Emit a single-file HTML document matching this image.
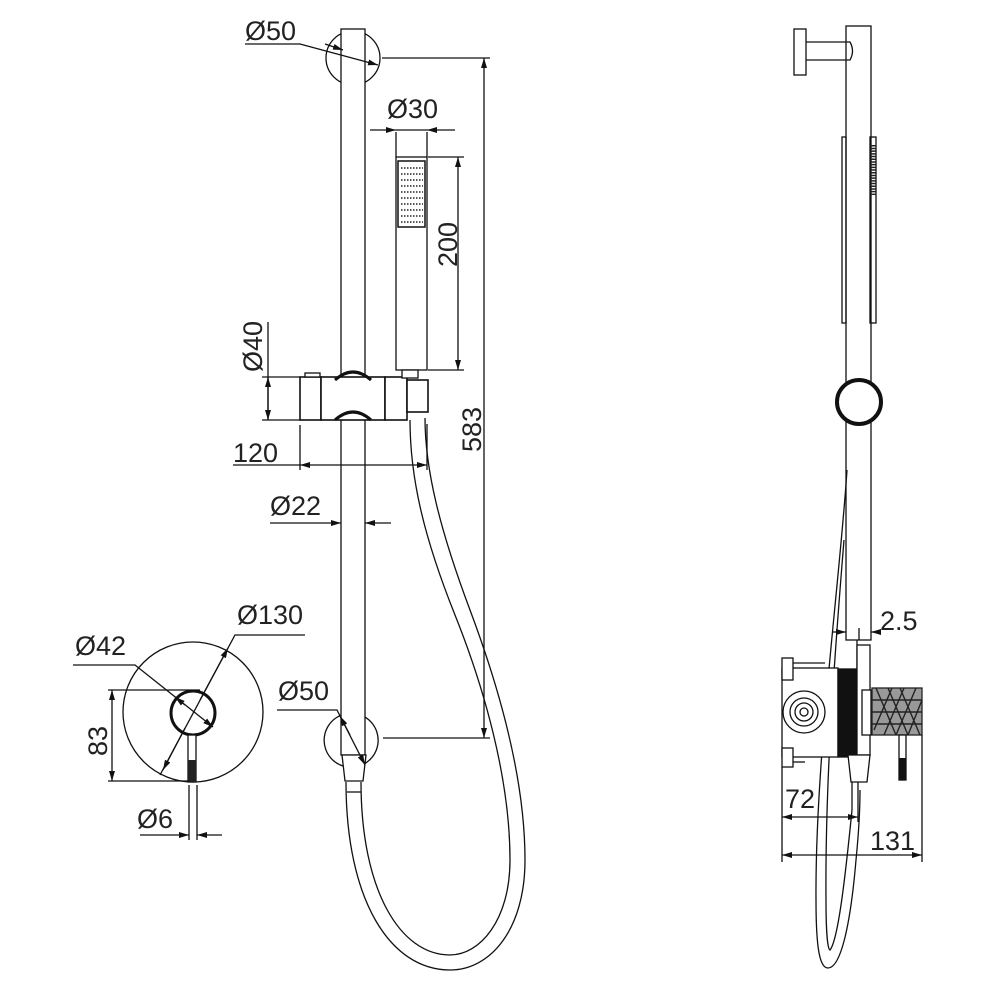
<!DOCTYPE html>
<html><head><style>html,body{margin:0;padding:0;background:#fff}svg{display:block}</style></head>
<body>
<svg width="1000" height="1000" viewBox="0 0 1000 1000" xmlns="http://www.w3.org/2000/svg" font-family="Liberation Sans, sans-serif" fill="none" stroke="#111" stroke-width="1.3">
<defs>
<marker id="a" viewBox="0 0 10 6" refX="10" refY="3" markerWidth="10" markerHeight="6" orient="auto-start-reverse" markerUnits="userSpaceOnUse"><path d="M0,0 L10,3 L0,6 z" fill="#111" stroke="none"/></marker>
</defs>
<!-- ===== main bar ===== -->
<circle cx="353" cy="58" r="27"/>
<path d="M343,766 A27,27 0 1 1 364,764"/>
<rect x="341" y="29" width="24" height="726" fill="#fff"/>
<!-- top Ø50 -->
<polyline points="245,44 300,44 378,65" marker-end="url(#a)"/>
<line x1="325" y1="44" x2="343" y2="50" marker-end="url(#a)"/>
<text x="245" y="40" font-size="27" fill="#222" stroke="none">Ø50</text>
<!-- 583 -->
<line x1="382" y1="58" x2="490" y2="58"/>
<line x1="383" y1="738" x2="490" y2="738"/>
<line x1="484" y1="58" x2="484" y2="738" marker-start="url(#a)" marker-end="url(#a)"/>
<text transform="translate(481,452) rotate(-90)" font-size="27" fill="#222" stroke="none">583</text>
<!-- hand shower -->
<rect x="396" y="157" width="31" height="213" fill="#fff"/>
<rect x="398" y="161" width="27" height="66" stroke-width="1.5"/>
<g stroke="#222" stroke-width="1.6" stroke-dasharray="1.5 1.5">
<line x1="401" y1="168" x2="423" y2="168"/><line x1="401" y1="174" x2="423" y2="174"/><line x1="401" y1="180" x2="423" y2="180"/><line x1="401" y1="186" x2="423" y2="186"/><line x1="401" y1="192" x2="423" y2="192"/><line x1="401" y1="198" x2="423" y2="198"/><line x1="401" y1="204" x2="423" y2="204"/><line x1="401" y1="210" x2="423" y2="210"/><line x1="401" y1="216" x2="423" y2="216"/><line x1="401" y1="222" x2="423" y2="222"/>
</g>
<!-- Ø30 -->
<line x1="396" y1="132" x2="396" y2="157"/><line x1="427" y1="132" x2="427" y2="157"/>
<line x1="370" y1="130" x2="396" y2="130" marker-end="url(#a)"/>
<line x1="455" y1="130" x2="427" y2="130" marker-end="url(#a)"/>
<line x1="396" y1="130" x2="427" y2="130"/>
<text x="387" y="118" font-size="27" fill="#222" stroke="none">Ø30</text>
<!-- 200 -->
<line x1="428" y1="157" x2="464" y2="157"/><line x1="428" y1="370" x2="464" y2="370"/>
<line x1="458" y1="157" x2="458" y2="370" marker-start="url(#a)" marker-end="url(#a)"/>
<text transform="translate(457,267) rotate(-90)" font-size="27" fill="#222" stroke="none">200</text>
<!-- slider -->
<rect x="300" y="377" width="21" height="43" fill="#fff" stroke-width="1.6"/>
<rect x="305" y="373" width="15" height="4" fill="#fff"/>
<rect x="321" y="377" width="64" height="43" fill="#fff" stroke-width="1.6"/>
<path d="M335,380 Q353,364 371,380" stroke-width="3"/>
<path d="M335,420 Q353,404 371,420" stroke-width="3"/>
<rect x="385" y="377" width="22" height="43" fill="#fff" stroke-width="1.6"/>
<rect x="402" y="370" width="16" height="8" fill="#fff"/>
<rect x="407" y="380" width="21" height="32" fill="#fff" stroke-width="1.6"/>
<!-- Ø40 -->
<line x1="262" y1="377" x2="300" y2="377"/><line x1="262" y1="420" x2="300" y2="420"/>
<line x1="268" y1="322" x2="268" y2="420"/>
<line x1="268" y1="377" x2="268" y2="420" marker-start="url(#a)" marker-end="url(#a)"/>
<text transform="translate(262,372) rotate(-90)" font-size="27" fill="#222" stroke="none">Ø40</text>
<!-- 120 -->
<line x1="300" y1="425" x2="300" y2="470"/><line x1="427" y1="424" x2="427" y2="470"/>
<line x1="233" y1="465" x2="300" y2="465"/>
<line x1="300" y1="465" x2="427" y2="465" marker-start="url(#a)" marker-end="url(#a)"/>
<text x="233" y="462" font-size="27" fill="#222" stroke="none">120</text>
<!-- Ø22 -->
<line x1="270" y1="523" x2="341" y2="523" marker-end="url(#a)"/>
<line x1="391" y1="523" x2="365" y2="523" marker-end="url(#a)"/>
<text x="270" y="515" font-size="27" fill="#222" stroke="none">Ø22</text>
<!-- hose -->
<path d="M425,418 C425,470 440,530 470,610 C500,690 525,780 525,860 C525,930 490,970 450,970 C390,970 346,900 346,782" fill="none"/>
<path d="M410,420 C410,480 425,540 455,615 C485,690 510,780 510,860 C510,920 480,955 450,955 C400,955 361,890 361,782" fill="none"/>
<!-- bottom escutcheon -->
<path d="M342,755 L366,755 L363,781 L345,781 Z" fill="#fff"/>
<line x1="347" y1="792" x2="361" y2="792"/>
<polyline points="277,710 337,710 365,765" marker-end="url(#a)"/>
<line x1="350" y1="735" x2="340" y2="716" marker-end="url(#a)"/>
<text x="278" y="700" font-size="27" fill="#222" stroke="none">Ø50</text>
<!-- ===== plate ===== -->
<circle cx="193" cy="712" r="70"/>
<circle cx="193" cy="713" r="22" stroke-width="3"/>
<rect x="188" y="735" width="8" height="47" fill="#fff"/>
<rect x="188" y="760" width="8" height="22" fill="#222" stroke="none"/>
<!-- 83 -->
<line x1="108" y1="690" x2="200" y2="690"/><line x1="108" y1="781" x2="190" y2="781"/>
<line x1="112" y1="690" x2="112" y2="781" marker-start="url(#a)" marker-end="url(#a)"/>
<text transform="translate(107,756) rotate(-90)" font-size="27" fill="#222" stroke="none">83</text>
<!-- Ø42 -->
<polyline points="73,665 135,665 213,727" marker-end="url(#a)"/>
<line x1="185" y1="705" x2="175" y2="697" marker-end="url(#a)"/>
<text x="75" y="655" font-size="27" fill="#222" stroke="none">Ø42</text>
<!-- Ø130 -->
<polyline points="305,635 235,635 160,775"/>
<line x1="200" y1="700" x2="228" y2="648" marker-end="url(#a)"/>
<line x1="185" y1="728" x2="163" y2="770" marker-end="url(#a)"/>
<text x="237" y="624" font-size="27" fill="#222" stroke="none">Ø130</text>
<!-- Ø6 -->
<line x1="189" y1="785" x2="189" y2="840"/><line x1="197" y1="785" x2="197" y2="840"/>
<line x1="140" y1="835" x2="189" y2="835" marker-end="url(#a)"/>
<line x1="222" y1="835" x2="197" y2="835" marker-end="url(#a)"/>
<text x="137" y="828" font-size="27" fill="#222" stroke="none">Ø6</text>
<!-- ===== side view ===== -->
<rect x="794" y="29" width="12" height="46"/>
<path d="M806,42 L850,42 Q855,51 850,60 L806,60"/>
<rect x="846" y="26" width="25" height="614" fill="none"/>
<rect x="842" y="137" width="4" height="186"/>
<rect x="870" y="137" width="6" height="186"/>
<g stroke="#222" stroke-width="2" stroke-dasharray="1.5 1.2"><line x1="873" y1="145" x2="873" y2="195" stroke-width="5"/></g>
<circle cx="859" cy="402" r="22" stroke-width="4" fill="#fff"/>
<!-- side hose -->
<path d="M847,470 C840,580 815,760 816,900 C816,950 820,968 828,968 C840,968 850,930 856,860 C860,820 860,800 860,790" fill="none"/>
<path d="M844,540 C835,650 825,780 826,900 C826,935 828,950 830,950 C838,940 845,880 852,810" fill="none"/>
<!-- valve box -->
<rect x="782" y="668" width="56" height="89" fill="#fff"/>
<rect x="782" y="658" width="11" height="22" fill="#fff"/>
<rect x="782" y="748" width="11" height="19" fill="#fff"/>
<line x1="793" y1="663" x2="825" y2="663"/><line x1="793" y1="762" x2="805" y2="762"/>
<circle cx="804" cy="712" r="21"/><circle cx="804" cy="712" r="14"/><circle cx="804" cy="712" r="9"/><circle cx="804" cy="712" r="4"/>
<rect x="838" y="669" width="19" height="88" fill="#111"/>
<line x1="857" y1="640" x2="857" y2="757"/>
<rect x="857" y="645" width="13" height="110" fill="#fff"/>
<path d="M848,755 L870,755 L867,782 L851,782 Z" fill="#fff"/>
<line x1="852" y1="782" x2="852" y2="810"/><line x1="858" y1="782" x2="858" y2="810"/>
<rect x="862" y="690" width="9" height="45" fill="#fff"/>
<rect x="872" y="688" width="50" height="47" fill="#999" stroke="#222"/>
<g stroke="#222" stroke-width="1.4">
<path d="M872,700 L922,700 M872,712 L922,712 M872,724 L922,724"/>
<path d="M876,688 L896,735 M888,688 L908,735 M900,688 L920,735 M884,735 L904,688 M896,735 L916,688 M874,730 L892,688 M908,735 L922,700"/>
</g>
<rect x="899" y="735" width="7" height="45" fill="#fff"/>
<rect x="899" y="758" width="7" height="22" fill="#111" stroke="none"/>
<!-- 2.5 -->
<line x1="832" y1="632" x2="846" y2="632" marker-end="url(#a)"/>
<line x1="878" y1="632" x2="871" y2="632" marker-end="url(#a)"/>
<line x1="859" y1="628" x2="859" y2="640"/>
<text x="880" y="630" font-size="27" fill="#222" stroke="none">2.5</text>
<!-- 72 / 131 -->
<line x1="782" y1="767" x2="782" y2="862"/><line x1="858" y1="810" x2="858" y2="822"/><line x1="922" y1="735" x2="922" y2="862"/>
<line x1="782" y1="817" x2="858" y2="817" marker-start="url(#a)" marker-end="url(#a)"/>
<line x1="782" y1="855" x2="922" y2="855" marker-start="url(#a)" marker-end="url(#a)"/>
<text x="785" y="808" font-size="27" fill="#222" stroke="none">72</text>
<text x="870" y="850" font-size="27" fill="#222" stroke="none">131</text>
</svg>
</body></html>
